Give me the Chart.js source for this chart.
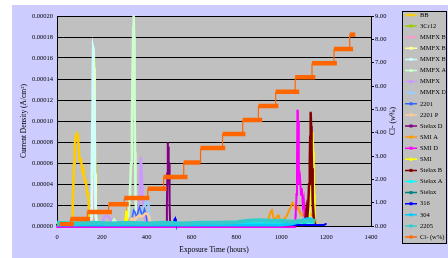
<!DOCTYPE html>
<html><head><meta charset="utf-8">
<script src="https://cdn.jsdelivr.net/npm/chart.js@4/dist/chart.umd.min.js"></script>
<style>html,body{margin:0;padding:0;background:#fff;}canvas{display:block;}</style>
</head><body>
<canvas id="c" width="448" height="258"></canvas>
<script>
// ---- data (hours, A/cm2) ----
const seriesNames = ['BB','3Cr12','MMFX B1','MMFX B2','MMFX B3','MMFX A','MMFX','MMFX D','2201','2201 P','Stelax D','SMI A','SMI D','SMI','Stelax B','Stelax A','Stelax','316','304','2205'];
const seriesColors = ['#ffcc00','#99cc00','#ff99cc','#ffff99','#ccffff','#ccffcc','#cc99ff','#99ccff','#3366ff','#ffcc99','#800080','#ff9900','#ff00ff','#ffff00','#800000','#00ffff','#008080','#0000ff','#00ccff','#33cccc'];

const BB = [[0,2e-6],[60,2e-6],[67,4e-6],[70,2e-5],[73,4e-5],[76,6e-5],[79,7.6e-5],[83,8.5e-5],[88,8.8e-5],[93,8.6e-5],[97,7.4e-5],[100,6.4e-5],[104,6.1e-5],[107,6.4e-5],[111,5.6e-5],[114,5.2e-5],[118,5.4e-5],[121,4.6e-5],[125,4.2e-5],[128,4.4e-5],[132,3.6e-5],[135,3e-5],[138,3.2e-5],[141,2.4e-5],[143,1.2e-5],[146,4e-6],[160,2e-6]];
const Cr12 = [[0,1e-6],[150,1e-6],[155,5e-6],[158,4e-5],[160,9e-5],[162,1.3e-4],[163,1.55e-4],[165,1.6e-4],[166,1.58e-4],[168,1.2e-4],[170,6e-5],[172,2e-5],[175,2e-6]];
const MMFXB1 = [[0,1e-6],[150,1e-6],[155,5e-6],[158,2e-5],[160,3e-5],[163,4.4e-5],[166,3.5e-5],[168,2e-5],[170,1e-5],[175,2e-6]];
const MMFXB2 = [[0,1e-6],[150,1e-6],[155,1e-5],[158,6e-5],[160,1e-4],[162,1.4e-4],[164,1.65e-4],[166,1.5e-4],[168,1e-4],[170,5e-5],[173,1e-5],[178,2e-6]];
const MMFXB3 = [[0,1e-6],[148,1e-6],[152,1e-5],[155,5e-5],[157,1e-4],[159,1.4e-4],[161,1.7e-4],[163,1.68e-4],[165,1.2e-4],[167,7e-5],[170,3e-5],[175,4e-6]];
const MMFXA = [[0,1e-6],[240,2e-6],[255,6e-6],[270,2e-6],[310,3e-6],[318,1e-5],[325,3e-5],[330,6e-5],[334,1e-4],[337,1.5e-4],[340,1.9e-4],[342,2e-4],[344,1.8e-4],[346,1.2e-4],[348,7e-5],[350,3e-5],[353,1e-5],[358,2e-6]];
const MMFX = [[0,1e-6],[200,2e-6],[210,8e-6],[220,1e-5],[235,8e-6],[245,2e-6],[350,3e-6],[360,1e-5],[366,2.5e-5],[370,4.5e-5],[374,6.5e-5],[378,5e-5],[382,3e-5],[388,1.5e-5],[395,4e-6],[405,1e-6]];
const MMFXD = [[0,1e-6],[320,2e-6],[340,5e-6],[360,8e-6],[375,1.2e-5],[385,1.5e-5],[395,2.2e-5],[402,2.5e-5],[408,2e-5],[413,1e-5],[418,2e-6]];
const S2201 = [[0,1e-6],[325,2e-6],[335,8e-6],[342,1.5e-5],[348,1.3e-5],[355,8e-6],[362,1.4e-5],[368,1.8e-5],[375,1.3e-5],[382,1e-5],[390,1.6e-5],[396,1.2e-5],[402,3e-6],[408,1e-6]];
const S2201P = [[0,1e-6],[315,1e-6],[325,4e-6],[335,7e-6],[345,5e-6],[355,8e-6],[365,1e-5],[375,9e-6],[385,1e-5],[395,1.2e-5],[405,1.1e-5],[412,8e-6],[418,2e-6]];
const StelaxD = [[0,1e-6],[480,1e-6],[488,3e-6],[490,2e-5],[492,5e-5],[494,7.9e-5],[496,6e-5],[497,7.5e-5],[499,4e-5],[500,6e-5],[502,2e-5],[504,4e-6],[510,1e-6]];
const SMIA = [[0,1e-6],[300,1e-6],[305,5e-6],[310,1.3e-5],[314,6e-6],[320,1e-6],[930,1e-6],[940,5e-6],[950,1.2e-5],[958,1.5e-5],[965,8e-6],[972,5e-6],[980,9e-6],[988,1e-5],[995,5e-6],[1005,4e-6],[1015,7e-6],[1025,1e-5],[1035,1.5e-5],[1042,1.8e-5],[1050,2.2e-5],[1058,2e-5],[1065,1.5e-5],[1075,1.8e-5],[1085,1.2e-5],[1095,1e-5],[1110,1.5e-5],[1125,1.2e-5],[1140,1e-5],[1150,8e-6],[1155,1e-6]];
const SMID = [[0,-1e-6],[1060,-1e-6],[1064,1e-5],[1068,3e-5],[1070,6e-5],[1072,1.1e-4],[1074,9e-5],[1076,1e-4],[1078,6e-5],[1080,4e-5],[1084,4.5e-5],[1088,3e-5],[1092,3.5e-5],[1096,2e-5],[1100,2.5e-5],[1104,1e-5],[1108,2e-6]];
const SMI = [[0,1e-6],[300,1e-6],[306,8e-6],[309,1.4e-5],[312,6e-6],[318,1e-6],[1120,1e-6],[1126,1e-5],[1130,3e-5],[1134,5e-5],[1137,7e-5],[1140,8.9e-5],[1143,7e-5],[1145,5e-5],[1147,3e-5],[1149,1e-5],[1152,2e-6]];
const StelaxB = [[0,1e-6],[1100,1e-6],[1108,5e-6],[1112,1.5e-5],[1116,8e-6],[1120,2e-5],[1124,4e-5],[1127,6e-5],[1129,8.5e-5],[1131,1.08e-4],[1133,9.5e-5],[1135,7.5e-5],[1137,5.5e-5],[1139,4e-5],[1141,2.5e-5],[1144,1e-5],[1148,3e-6],[1152,1e-6]];
const StelaxA = [[0,2e-6],[300,2e-6],[600,2e-6],[900,3e-6],[1150,3e-6]];
const Stelax = [[0,1e-6],[600,1e-6],[1150,1e-6]];
const S316 = [[480,1e-6],[520,1e-6],[524,6e-6],[527,7e-6],[530,4e-6],[535,1e-6],[1190,1e-6],[1200,2e-6]];
const S304 = [[0,1e-6],[1000,1e-6],[1050,2e-6],[1080,4e-6],[1100,6e-6],[1120,7e-6],[1150,5e-6]];
const S2205 = [[0,3e-6],[80,2.5e-6],[160,3e-6],[240,2.5e-6],[320,3e-6],[400,2.5e-6],[480,3e-6],[560,2.5e-6],[640,3e-6],[720,3e-6],[800,3.5e-6],[850,5e-6],[900,5.5e-6],[950,5e-6],[1000,5e-6],[1050,4e-6],[1100,5e-6],[1150,5e-6]];

// Cl- (w%) step segments
const clStart = [12, 60, 135, 230, 300, 405, 475, 565, 640, 738, 828, 898, 975, 1062, 1137, 1235, 1305];
const clEnd   = [75, 148, 245, 320, 412, 488, 582, 640, 750, 840, 915, 987, 1080, 1152, 1248, 1320, 1330];
const clValue = [0.08, 0.3, 0.6, 0.93, 1.2, 1.6, 2.1, 2.72, 3.34, 3.94, 4.54, 5.14, 5.75, 6.38, 6.97, 7.59, 8.2];

const xTicks = [0,200,400,600,800,1000,1200,1400];

const allSeries = [BB,Cr12,MMFXB1,MMFXB2,MMFXB3,MMFXA,MMFX,MMFXD,S2201,S2201P,StelaxD,SMIA,SMID,SMI,StelaxB,StelaxA,Stelax,S316,S304,S2205];
const lineWidths = [2.5,2,2,2.5,2.5,2.5,2.5,2.5,1.5,2.5,2,2,2,2,2.5,2,1.5,2,3,4];
const markerSizes = [1.3,1.3,1,1.3,1.3,1.3,1.3,1.2,0.8,1.2,1.3,1,1.3,1.3,1.3,0,0,1,0,0];

const FONT = '"Liberation Serif", "Times New Roman", serif';
const N = allSeries.length + 1;

const datasets = allSeries.map((s,i)=>({
  label: seriesNames[i],
  data: s.map(([x,y])=>({x,y})),
  borderColor: seriesColors[i],
  backgroundColor: seriesColors[i],
  borderWidth: lineWidths[i],
  pointRadius: markerSizes[i],
  pointBorderWidth: 0,
  pointStyle: 'rect',
  tension: 0,
  yAxisID: 'y',
  order: N - i,
  clip: 4
}));

const clPoints = [];
clStart.forEach((s,i)=>{
  if (i>0) clPoints.push({x:s, y:clValue[i-1]});
  clPoints.push({x:s, y:clValue[i]});
  clPoints.push({x:clEnd[i], y:clValue[i]});
});
datasets.push({
  label: 'Cl- (w%)',
  data: clPoints,
  borderColor: '#ff6600',
  backgroundColor: '#ff6600',
  borderWidth: 4.5,
  borderCapStyle: 'butt',
  pointRadius: 0,
  tension: 0,
  yAxisID: 'y2',
  order: 0,
  segment: { borderWidth: c => (c.p0.parsed.y === c.p1.parsed.y ? 4.5 : 1.2) }
});

const bgPlugin = {
  id:'bg',
  beforeDraw(chart){
    const ctx = chart.ctx, a = chart.chartArea;
    ctx.save();
    ctx.fillStyle = '#ffffff'; ctx.fillRect(0,0,448,258);
    ctx.fillStyle = '#ccccff'; ctx.fillRect(12,5,436,253);
    ctx.fillStyle = '#c0c0c0'; ctx.fillRect(a.left,a.top,a.right-a.left,a.bottom-a.top);
    ctx.restore();
  },
  afterDraw(chart){
    const ctx = chart.ctx, a = chart.chartArea;
    ctx.save();
    // right axis title
    ctx.translate(393, (a.top+a.bottom)/2);
    ctx.rotate(-Math.PI/2);
    ctx.fillStyle = '#000'; ctx.font = '7.5px '+FONT; ctx.textAlign='center'; ctx.textBaseline='middle';
    ctx.fillText('Cl- (w%)', 0, 0);
    ctx.restore();
    // legend
    ctx.save();
    const bx=402.5, by=11.5, bw=44, bh=232;
    ctx.fillStyle='#c0c0c0'; ctx.fillRect(bx,by,bw,bh);
    ctx.strokeStyle='#000'; ctx.lineWidth=1; ctx.strokeRect(bx,by,bw,bh);
    ctx.beginPath(); ctx.rect(bx,by,bw-1,bh); ctx.clip();
    chart.data.datasets.forEach((ds,i)=>{
      const y = 15 + i*11.1;
      ctx.strokeStyle = ds.borderColor; ctx.lineWidth = 1.5;
      ctx.beginPath(); ctx.moveTo(405,y); ctx.lineTo(417,y); ctx.stroke();
      ctx.fillStyle = ds.borderColor; ctx.fillRect(409.5,y-1.5,3,3);
      ctx.fillStyle = '#000'; ctx.font = '6.5px '+FONT; ctx.textBaseline='middle'; ctx.textAlign='left';
      ctx.fillText(ds.label, 420, y);
    });
    ctx.restore();
  }
};

const tickFont = {family: FONT, size: 6.5};
new Chart(document.getElementById('c'), {
  type: 'line',
  data: { datasets },
  options: {
    responsive: false, animation: false, devicePixelRatio: 1, events: [],
    layout: { padding: { left: 12, top: 16, right: 46, bottom: 0 } },
    plugins: { legend: { display: false }, tooltip: { enabled: false } },
    scales: {
      x: {
        type: 'linear', min: 0, max: 1400,
        afterBuildTicks: s => { s.ticks = xTicks.map(v=>({value:v})); },
        ticks: { color:'#000', font: tickFont, padding: 7, maxRotation: 0, callback: v => String(v) },
        grid: { display: false, drawTicks: false },
        border: { display: true, color: '#000', width: 1 },
        title: { display: true, text: 'Exposure Time (hours)', color: '#000', font: {family: FONT, size: 7.5}, padding: {top:0, bottom:3.5} },
        afterFit: s => { s.height = 32; }
      },
      y: {
        position: 'left', min: 0, max: 0.0002,
        ticks: { stepSize: 0.00002, callback: v => v.toFixed(5), color:'#000', font: tickFont, padding: 4 },
        grid: { color: '#000', lineWidth: 1, drawTicks: false },
        border: { display: true, color: '#000' },
        title: { display: true, text: 'Current Density (A/cm²)', color: '#000', font: {family: FONT, size: 7.5}, padding: {top:7.5, bottom:0} },
        afterFit: s => { s.width = 45; }
      },
      y2: {
        position: 'right', min: 0, max: 9,
        ticks: { stepSize: 1, callback: v => v.toFixed(2), color:'#000', font: tickFont, padding: 1 },
        grid: { drawOnChartArea: false, drawTicks: true, tickLength: 3, color: '#000' },
        border: { display: true, color: '#000' },
        afterFit: s => { s.width = 31; }
      }
    }
  },
  plugins: [bgPlugin]
});
</script>
</body></html>
